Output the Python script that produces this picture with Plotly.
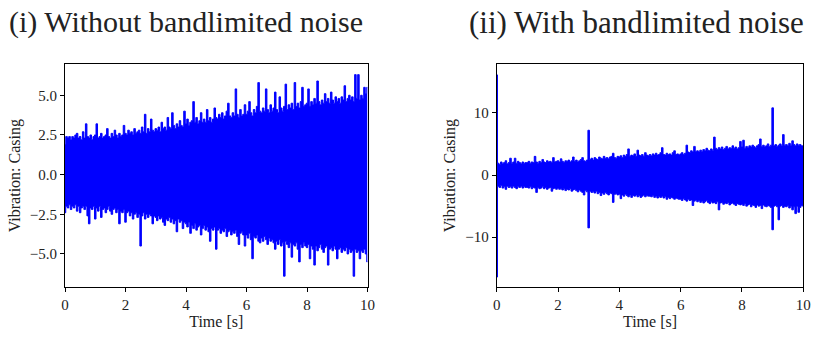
import numpy as np
import plotly.graph_objects as go

# Time grid of the decimated envelope (seconds)
time_s = np.round(np.arange(0, 10.0001, 0.05), 2)

# (i) Without bandlimited noise: upper / lower peak envelope
upper_i = [
    1.9, 2.4, 2.3, 2.4, 2.2, 2.4, 2.3, 2.5, 2.6, 2.3, 2.4, 2.2, 2.7, 2.3, 3.2, 2.4, 2.3, 2.5, 2.2, 2.4,
    2.5, 3.2, 2.3, 2.4, 2.6, 2.3, 2.4, 2.5, 2.9, 2.4, 2.3, 2.6, 2.4, 2.8, 2.5, 2.3, 2.6, 2.4, 2.5, 3.1,
    2.6, 2.5, 2.8, 2.6, 2.7, 2.5, 2.9, 2.6, 2.7, 2.8, 2.6, 3.0, 2.7, 3.8, 2.6, 2.9, 2.7, 3.5, 2.8, 2.7,
    2.9, 2.8, 3.0, 2.7, 3.3, 2.9, 3.0, 2.8, 3.6, 3.0, 2.9, 3.9, 3.1, 2.9, 3.2, 3.0, 3.4, 3.1, 3.0, 4.0,
    3.2, 3.5, 3.1, 3.3, 3.4, 4.6, 3.3, 3.6, 3.2, 3.4, 3.9, 3.3, 3.5, 3.3, 4.1, 3.4, 3.6, 3.3, 3.5, 4.2,
    3.6, 3.5, 3.8, 3.6, 3.9, 3.5, 3.7, 4.0, 4.5, 3.7, 3.6, 3.9, 3.7, 5.4, 3.8, 3.6, 4.1, 3.7, 3.8, 4.4,
    3.8, 4.0, 4.6, 3.9, 3.7, 4.1, 3.9, 4.3, 5.8, 4.0, 3.9, 4.2, 4.0, 5.4, 4.1, 3.9, 4.4, 4.0, 4.2, 5.2,
    4.1, 3.9, 4.9, 4.2, 4.0, 4.3, 5.7, 4.1, 4.4, 4.2, 4.5, 4.1, 5.8, 4.3, 4.5, 4.2, 4.6, 5.5, 4.3, 4.4,
    4.5, 5.4, 4.3, 4.6, 4.4, 4.8, 4.5, 5.9, 4.6, 4.4, 4.7, 4.5, 5.1, 4.6, 4.8, 4.5, 5.2, 4.7, 4.5, 4.9,
    4.6, 4.8, 4.5, 4.9, 4.7, 5.6, 4.6, 4.8, 5.0, 4.7, 4.9, 4.6, 6.3, 4.8, 6.3, 4.7, 5.0, 4.8, 5.5, 5.1, 5.5,
]
lower_i = [
    -2.4, -2.0, -2.1, -1.9, -2.2, -2.0, -2.1, -1.9, -2.3, -2.0, -2.4, -2.1, -2.0, -2.2, -2.0, -2.6, -3.1, -2.1, -2.2, -2.0,
    -2.8, -2.1, -2.3, -2.0, -2.7, -2.2, -2.1, -2.4, -2.2, -2.0, -2.3, -2.5, -2.2, -2.1, -2.4, -2.2, -3.1, -2.3, -2.4, -2.2,
    -3.0, -2.4, -2.3, -2.6, -2.4, -2.8, -2.5, -2.4, -2.7, -2.5, -4.5, -2.6, -2.4, -2.8, -2.5, -2.7, -2.5, -2.6, -3.1, -2.6,
    -2.7, -2.9, -2.6, -2.8, -2.7, -3.0, -3.2, -2.8, -2.9, -2.7, -3.0, -2.8, -3.1, -2.9, -3.6, -2.8, -3.0, -2.9, -3.4, -3.0,
    -3.1, -3.3, -3.0, -3.7, -3.2, -3.4, -3.1, -3.5, -3.3, -3.2, -3.8, -3.4, -3.2, -3.5, -3.3, -3.6, -4.2, -3.4, -3.5, -3.3,
    -4.7, -3.5, -3.4, -3.7, -3.5, -3.6, -3.4, -3.9, -3.6, -3.5, -3.8, -3.6, -3.7, -3.5, -3.9, -4.4, -3.7, -3.6, -3.8, -4.5,
    -3.8, -4.0, -3.7, -4.1, -5.3, -3.9, -4.0, -3.8, -4.2, -4.3, -4.0, -4.2, -3.9, -4.1, -4.4, -4.0, -4.2, -4.1, -4.3, -4.7,
    -4.2, -4.4, -4.1, -4.5, -4.3, -6.4, -4.2, -4.4, -4.6, -4.3, -5.2, -4.4, -4.5, -4.3, -4.7, -5.5, -4.4, -4.6, -4.3, -4.5,
    -4.6, -4.4, -5.3, -4.5, -4.7, -5.7, -4.5, -4.8, -4.6, -4.4, -4.7, -4.9, -4.6, -4.5, -5.7, -4.7, -4.6, -4.8, -4.5, -4.7,
    -5.3, -4.7, -4.6, -4.9, -4.7, -4.8, -4.6, -5.0, -4.7, -4.9, -4.8, -6.4, -4.7, -4.9, -4.8, -5.3, -4.8, -4.9, -4.7, -5.0, -5.5,
]

# (ii) With bandlimited noise: upper / lower peak envelope
upper_ii = [
    16.1, 1.9, 1.7, 2.1, 1.8, 2.0, 2.3, 1.8, 2.0, 2.7, 1.9, 2.1, 2.7, 1.9, 2.2, 2.0, 1.8, 2.1, 1.9, 2.0,
    2.0, 2.2, 1.9, 2.1, 2.0, 3.0, 2.1, 1.9, 2.2, 2.0, 2.5, 2.1, 2.0, 2.3, 2.1, 2.2, 2.0, 2.8, 2.1, 2.2,
    2.3, 2.1, 2.6, 2.2, 2.0, 2.3, 2.2, 2.4, 2.1, 2.3, 2.9, 2.2, 2.4, 2.1, 2.3, 2.5, 2.8, 2.3, 2.2, 2.4,
    7.2, 2.5, 2.7, 2.4, 2.8, 2.6, 2.5, 2.9, 2.7, 2.6, 3.0, 2.7, 2.8, 2.6, 2.9, 3.0, 3.5, 2.8, 2.7, 3.0,
    2.9, 3.1, 2.8, 3.2, 3.0, 3.3, 4.2, 3.0, 3.2, 3.1, 3.4, 3.0, 4.0, 3.2, 3.1, 3.3, 3.0, 3.6, 3.2, 3.1,
    3.3, 3.1, 3.4, 3.2, 3.5, 3.2, 3.3, 3.6, 4.4, 3.3, 3.2, 3.5, 3.3, 3.4, 3.2, 3.6, 3.9, 3.3, 3.4, 3.2,
    3.4, 3.6, 3.3, 3.5, 4.8, 3.7, 3.6, 3.9, 3.7, 4.6, 3.8, 3.9, 3.7, 4.0, 3.8, 4.1, 3.9, 4.3, 4.0, 3.9,
    4.2, 4.0, 6.1, 4.3, 4.1, 4.4, 4.2, 4.5, 4.1, 4.3, 4.6, 4.2, 4.4, 4.3, 4.7, 4.3, 4.5, 4.2, 4.4, 5.4,
    4.5, 5.6, 4.3, 4.6, 4.4, 4.7, 4.5, 4.8, 4.6, 4.4, 4.7, 4.9, 5.8, 4.6, 4.8, 4.5, 4.7, 5.0, 4.6, 4.8,
    10.8, 4.7, 4.9, 4.6, 4.8, 5.0, 4.7, 6.5, 4.8, 4.9, 4.7, 5.1, 4.8, 5.5, 4.9, 4.7, 5.0, 4.8, 4.9, 4.7, 4.7,
]
lower_ii = [
    -16.4, -1.8, -2.0, -1.7, -2.1, -1.9, -2.3, -1.8, -2.0, -1.9, -2.1, -1.8, -2.0, -2.2, -1.9, -2.0, -1.8, -2.1, -1.9, -2.0,
    -2.0, -2.1, -1.9, -2.2, -2.0, -2.1, -2.8, -2.0, -2.2, -2.1, -1.9, -2.2, -2.0, -2.3, -2.1, -2.0, -2.6, -2.2, -2.1, -2.3,
    -2.1, -2.3, -2.2, -2.4, -2.2, -2.5, -2.3, -2.4, -2.2, -2.6, -2.4, -2.3, -2.5, -2.7, -2.4, -2.6, -2.8, -3.2, -2.5, -2.7,
    -8.5, -2.6, -2.8, -2.7, -2.9, -2.6, -3.0, -2.8, -3.3, -2.9, -3.1, -2.8, -3.0, -3.2, -2.9, -3.0, -4.4, -3.1, -3.0, -3.2,
    -3.1, -3.8, -3.2, -3.4, -3.1, -3.3, -3.5, -3.2, -3.6, -3.3, -3.4, -3.2, -3.5, -3.3, -3.6, -3.4, -3.2, -3.5, -3.3, -3.4,
    -3.4, -3.5, -3.3, -3.6, -3.4, -3.7, -3.5, -3.6, -3.4, -3.7, -3.5, -3.9, -3.6, -3.8, -3.6, -3.7, -3.9, -3.7, -3.8, -3.9,
    -3.9, -4.1, -3.8, -4.0, -4.2, -3.9, -4.1, -4.0, -4.9, -4.2, -4.0, -4.3, -4.1, -4.4, -4.2, -4.5, -4.3, -4.1, -4.4, -4.6,
    -4.3, -4.5, -4.4, -4.6, -4.3, -5.6, -4.5, -4.4, -4.7, -4.5, -4.6, -4.4, -4.8, -4.6, -4.5, -4.7, -4.9, -4.6, -4.7, -4.8,
    -4.7, -4.9, -4.6, -5.0, -4.8, -4.7, -5.1, -4.8, -4.9, -5.2, -4.8, -5.0, -4.9, -5.4, -4.8, -5.0, -5.1, -4.9, -5.0, -5.2,
    -8.8, -5.0, -4.9, -5.1, -7.2, -5.0, -4.9, -5.2, -5.0, -5.1, -4.9, -5.3, -5.0, -5.6, -5.1, -6.2, -5.0, -6.0, -5.2, -4.9, -5.0,
]

titles = ["(i) Without bandlimited noise", "(ii) With bandlimited noise"]
x_label = "Time [s]"
y_label = "Vibration: Casing"
x_ticks = [0, 2, 4, 6, 8, 10]
y_ticks_i = [-5.0, -2.5, 0.0, 2.5, 5.0]
y_ticks_ii = [-10, 0, 10]

BLUE = "#0000ff"
FONT = "Liberation Serif"
TXT = "#222222"

fig = go.Figure()

for k, (up, lo) in enumerate([(upper_i, lower_i), (upper_ii, lower_ii)]):
    xa = "x" if k == 0 else "x2"
    ya = "y" if k == 0 else "y2"
    fig.add_trace(go.Scatter(x=time_s, y=up, mode="lines", line=dict(color=BLUE, width=1, shape="hvh"),
                             xaxis=xa, yaxis=ya, showlegend=False, hoverinfo="skip"))
    fig.add_trace(go.Scatter(x=time_s, y=lo, mode="lines", line=dict(color=BLUE, width=1, shape="hvh"),
                             fill="tonexty", fillcolor=BLUE,
                             xaxis=xa, yaxis=ya, showlegend=False, hoverinfo="skip"))

axis_common = dict(showgrid=False, zeroline=False, showline=True, linecolor="black", linewidth=1,
                   mirror=True, ticks="outside", ticklen=4, tickwidth=1, tickcolor="black",
                   tickfont=dict(family=FONT, size=15, color=TXT), automargin=False)

y_top = 1 - 64.3 / 338
y_bot = 1 - 287.0 / 338

fig.update_layout(
    width=813, height=338, margin=dict(l=0, r=0, t=0, b=0),
    paper_bgcolor="white", plot_bgcolor="white",
    font=dict(family=FONT, color=TXT),
    xaxis=dict(domain=[65 / 813, 367.5 / 813], range=[0, 10], tickvals=x_ticks,
               title=dict(text=x_label, font=dict(family=FONT, size=16), standoff=3), anchor="y", **axis_common),
    yaxis=dict(domain=[y_bot, y_top], range=[-7.08, 6.95], tickvals=y_ticks_i, tickformat=".1f",
               title=dict(text=y_label, font=dict(family=FONT, size=16), standoff=5), anchor="x", **axis_common),
    xaxis2=dict(domain=[496.7 / 813, 803.3 / 813], range=[0, 10], tickvals=x_ticks,
                title=dict(text=x_label, font=dict(family=FONT, size=16), standoff=3), anchor="y2", **axis_common),
    yaxis2=dict(domain=[y_bot, y_top], range=[-18.0, 17.8], tickvals=y_ticks_ii,
                title=dict(text=y_label, font=dict(family=FONT, size=16), standoff=5), anchor="x2", **axis_common),
)

fig.add_annotation(text=titles[0], x=185.5 / 813, y=1 - 22 / 338, xref="paper", yref="paper",
                   showarrow=False, font=dict(family=FONT, size=30, color=TXT),
                   xanchor="center", yanchor="middle")
fig.add_annotation(text=titles[1], x=636.5 / 813, y=1 - 22 / 338, xref="paper", yref="paper",
                   showarrow=False, font=dict(family=FONT, size=31, color=TXT),
                   xanchor="center", yanchor="middle")

fig.write_html("out.html")
